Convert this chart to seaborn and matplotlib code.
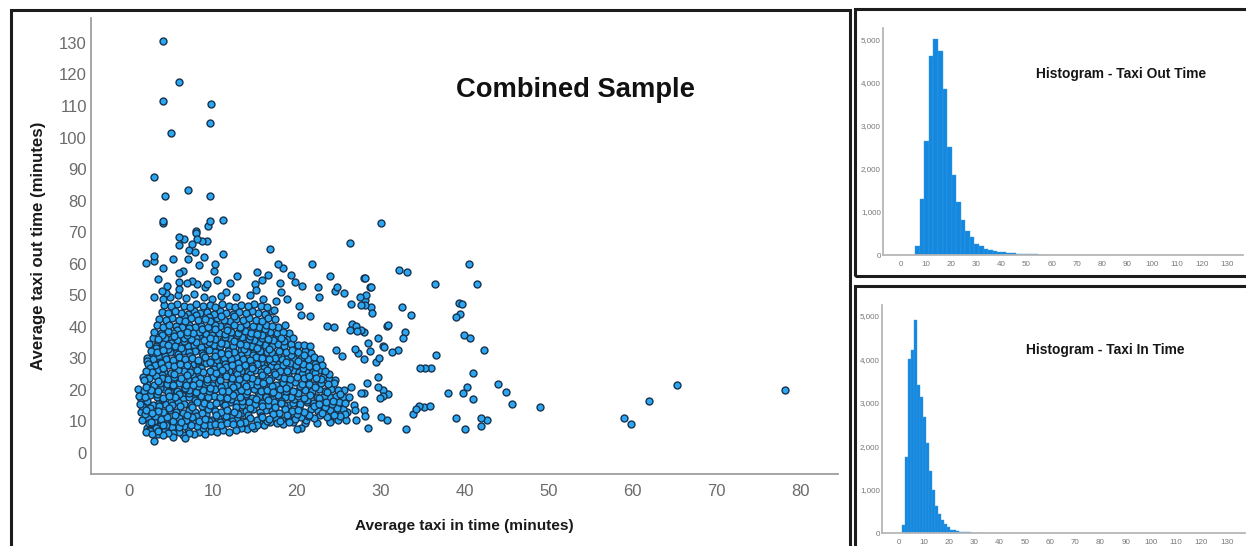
"""Combined sample: taxi in / taxi out scatter with two histograms"""

import matplotlib
matplotlib.use('Agg')
import matplotlib.pyplot as plt
import pandas as pd
import seaborn as sns

# scatter, outliers and loose points around the cloud
loose_in = [4.0, 6.0, 4.0, 9.8, 9.6, 5.0, 3.0, 7.0, 4.3, 9.6, 4.0, 4.0, 9.7, 9.4, 11.2, 8.0,
            78.2, 65.3, 62.0, 59.8, 59.0, 49.0, 45.6, 44.9, 44.0, 42.3, 42.7, 42.0, 42.0, 41.0, 41.0, 41.5,
            40.5, 40.6, 39.9, 40.3, 40.0, 39.8, 39.0, 38.0, 39.7, 39.3, 39.5, 39.0, 36.5, 36.6, 36.0, 35.3,
            34.7, 35.9, 35.2, 34.6, 34.2, 33.8, 33.0, 33.6, 32.9, 32.7, 32.5, 32.2, 33.1, 30.0, 26.3, 16.8,
            32.0, 31.3, 30.3, 30.9, 29.7, 28.5, 28.8, 28.7, 28.1, 27.6, 26.6, 28.1, 27.5, 27.2, 6.0, 6.5,
            6.0, 8.0, 8.1, 8.7, 9.3, 7.5, 7.1, 7.9, 11.2, 2.0, 3.0, 3.0, 5.2, 4.0, 8.9, 7.0,
            10.3, 10.1, 8.3, 17.7, 18.4, 21.8, 19.3, 19.8, 20.6, 23.9, 28.0, 28.8, 28.2, 22.5, 22.6, 24.5,
            24.8, 25.6, 26.4, 27.6, 28.1, 29.0, 15.3, 16.6, 12.9, 10.5, 3.5, 6.4, 5.9, 18.0, 18.1, 15.8,
            15.0, 15.1, 12.0, 11.6, 3.0, 4.5, 3.9, 4.0, 6.0, 6.9, 7.5, 8.1, 9.1, 9.3, 18.8, 17.5,
            20.3, 20.5, 21.6, 23.6, 24.4, 26.3, 27.1, 28.0, 30.8, 30.4, 28.7, 26.9, 27.3, 28.0, 24.7, 25.4,
            29.4, 29.8, 29.7, 28.5, 30.0, 30.8, 29.7, 30.3, 29.9, 30.3, 30.9, 28.4, 27.7, 28.0, 28.0, 26.9,
            27.0, 28.1, 25.9, 24.9, 24.0, 25.7, 20.0, 20.5, 21.0, 3.0, 6.7]
loose_out = [130.6, 117.6, 111.6, 110.6, 104.5, 101.5, 87.4, 83.4, 81.4, 81.4, 73.0, 73.4, 73.6, 72.0, 74.0, 70.4,
             20.0, 21.5, 16.4, 9.1, 11.0, 14.5, 15.5, 19.2, 22.0, 32.5, 10.4, 11.0, 8.5, 17.0, 25.5, 53.6,
             60.0, 36.6, 37.5, 21.0, 7.6, 19.0, 11.0, 19.0, 47.3, 47.6, 44.0, 43.0, 53.6, 31.0, 27.0, 27.0,
             27.0, 14.8, 14.5, 14.8, 13.9, 12.3, 7.6, 43.8, 38.5, 36.6, 46.4, 58.0, 57.4, 73.0, 66.5, 64.7,
             32.5, 31.9, 34.0, 40.7, 36.6, 35.0, 46.4, 52.7, 55.5, 39.0, 41.0, 48.6, 49.5, 38.8, 68.5, 67.7,
             66.0, 69.8, 67.7, 67.2, 67.2, 66.3, 64.3, 63.8, 63.2, 60.3, 62.5, 61.0, 61.4, 58.8, 62.0, 61.4,
             59.8, 57.7, 59.5, 59.8, 58.5, 60.0, 56.4, 54.3, 52.8, 56.2, 55.4, 52.5, 50.2, 52.7, 49.5, 51.4,
             52.5, 50.8, 47.2, 46.8, 47.0, 44.4, 57.4, 56.5, 56.2, 54.8, 55.3, 57.7, 57.2, 54.0, 51.0, 54.9,
             53.5, 51.7, 53.8, 50.9, 49.3, 53.0, 51.2, 48.8, 54.3, 54.0, 54.4, 53.7, 52.5, 53.5, 48.8, 48.3,
             46.5, 43.8, 43.3, 40.4, 40.0, 39.0, 40.4, 38.3, 40.4, 33.5, 32.3, 33.0, 31.6, 29.9, 32.5, 30.9,
             29.0, 30.0, 24.0, 8.0, 11.5, 10.4, 20.9, 19.9, 17.4, 18.0, 18.8, 22.3, 19.0, 19.0, 13.6, 13.6,
             10.6, 11.7, 10.4, 10.4, 9.9, 12.5, 7.6, 8.0, 9.6, 3.8, 4.7]

# dense cloud, lower part (out time under 15)
low_in = [2.2, 2.9, 3.4, 4.1, 4.7, 5.3, 5.9, 6.4, 7.1, 7.8,
          8.4, 9.1, 9.8, 10.5, 11.2, 11.9, 12.7, 13.4, 14.1, 14.9,
          2.4, 3.7, 4.4, 5.1, 5.7, 6.6, 7.4, 8.1, 8.9, 9.6,
          10.3, 11.0, 11.7, 12.4, 13.2, 14.6, 15.3, 16.1, 16.8, 17.6,
          18.3, 19.1, 2.0, 1.6, 2.3, 3.0, 3.8, 4.5, 5.2, 6.0,
          6.8, 7.5, 8.3, 9.0, 9.8, 10.6, 11.3, 12.1, 12.9, 13.6,
          14.4, 15.2, 15.9, 16.7, 17.5, 18.2, 19.0, 19.8, 20.5, 21.3,
          22.1, 22.8, 23.6, 24.4, 25.1, 1.4, 2.0, 2.7, 3.4, 4.1,
          4.9, 5.6, 6.4, 7.2, 7.9, 8.7, 9.4, 10.2, 11.0, 11.7,
          12.5, 13.3, 14.0, 14.8, 15.6, 16.3, 17.1, 17.9, 18.6, 19.4,
          20.2, 20.9, 21.7, 22.5, 23.2, 24.0, 24.8, 25.5, 2.5, 3.2]
low_out = [7.9, 6.2, 6.9, 5.7, 6.3, 5.2, 6.6, 5.8, 6.4, 5.9,
           6.7, 6.1, 7.0, 6.5, 7.2, 6.8, 7.4, 7.9, 7.6, 8.0,
           9.4, 8.7, 8.9, 8.2, 9.1, 8.4, 8.9, 8.6, 9.0, 8.8,
           9.3, 8.9, 9.6, 9.2, 9.5, 8.6, 9.0, 8.8, 9.7, 9.4,
           9.1, 9.8, 6.8, 10.4, 11.2, 10.1, 10.9, 11.4, 10.3, 11.0,
           10.6, 11.3, 10.2, 10.9, 10.5, 11.1, 10.3, 11.4, 10.7, 10.2,
           11.0, 10.6, 11.5, 10.8, 11.2, 10.4, 11.6, 10.9, 11.3, 11.7,
           11.0, 12.0, 11.4, 12.1, 11.6, 13.0, 13.6, 12.8, 13.4, 12.9,
           13.7, 13.1, 12.7, 13.5, 13.0, 12.6, 13.8, 13.2, 12.9, 13.6,
           13.1, 12.8, 13.4, 13.9, 13.0, 13.5, 13.2, 12.8, 14.0, 13.3,
           13.7, 13.1, 13.9, 13.4, 14.1, 13.6, 14.2, 13.8, 7.1, 8.0]

# dense cloud, out time 15 to 25
mid_in = [1.3, 2.1, 2.8, 3.6, 4.3, 5.1, 5.8, 6.6, 7.4, 8.1,
          8.9, 9.7, 10.4, 11.2, 12.0, 12.7, 13.5, 14.3, 15.0, 15.8,
          16.6, 17.3, 18.1, 18.9, 19.6, 20.4, 21.2, 21.9, 22.7, 23.5,
          24.2, 25.0, 25.8, 1.2, 1.9, 2.5, 3.3, 4.0, 4.8, 5.5,
          6.3, 7.1, 7.8, 8.6, 9.4, 10.1, 10.9, 11.7, 12.4, 13.2,
          14.0, 14.7, 15.5, 16.3, 17.0, 17.8, 18.6, 19.3, 20.1, 20.9,
          21.6, 22.4, 23.2, 23.9, 24.7, 25.5, 26.2, 1.1, 1.8, 2.6,
          3.4, 4.2, 4.9, 5.7, 6.5, 7.2, 8.0, 8.8, 9.5, 10.3,
          11.1, 11.8, 12.6, 13.4, 14.1, 14.9, 15.7, 16.4, 17.2, 18.0,
          18.7, 19.5, 20.3, 21.0, 21.8, 22.6, 23.3, 24.1, 24.9, 25.6,
          2.2, 3.0, 3.7, 4.5, 5.3, 6.0, 6.8, 7.6, 8.3, 9.1,
          9.9, 10.6, 11.4, 12.2, 12.9, 13.7, 14.5, 15.2, 16.0, 16.8,
          17.5, 18.3, 19.1, 19.8, 20.6, 21.4, 22.1, 22.9, 23.7, 24.4,
          1.7, 2.4, 3.2, 3.9, 4.7, 5.4, 6.2, 7.0, 7.7, 8.5,
          9.3, 10.0, 10.8, 11.6, 12.3, 13.1, 13.9, 14.6, 15.4, 16.2,
          16.9, 17.7, 18.5, 19.2, 20.0, 20.8, 21.5, 22.3, 23.1, 23.8]
mid_out = [15.4, 15.9, 15.2, 16.0, 15.5, 15.1, 16.1, 15.6, 15.2, 16.2,
           15.7, 15.3, 16.0, 15.5, 16.3, 15.8, 15.2, 16.1, 15.6, 15.9,
           15.3, 16.2, 15.7, 15.1, 16.0, 15.5, 16.3, 15.8, 15.4, 16.1,
           15.6, 16.2, 15.8, 18.0, 17.6, 18.3, 17.9, 17.4, 18.1, 17.7,
           18.4, 17.8, 17.3, 18.0, 17.6, 18.2, 17.9, 17.4, 18.3, 17.7,
           18.1, 17.5, 18.2, 17.8, 17.4, 18.4, 17.9, 17.6, 18.1, 17.5,
           18.3, 17.8, 18.0, 17.6, 18.2, 17.9, 17.7, 20.2, 19.7, 20.1,
           19.6, 20.3, 19.8, 19.5, 20.2, 19.9, 19.4, 20.1, 19.7, 20.4,
           19.8, 19.5, 20.3, 19.9, 19.6, 20.2, 19.7, 20.0, 19.4, 20.3,
           19.8, 19.6, 20.1, 19.9, 19.5, 20.2, 19.7, 20.4, 19.9, 20.1,
           22.0, 21.6, 22.3, 21.8, 21.5, 22.2, 21.7, 21.4, 22.1, 21.9,
           21.5, 22.3, 21.7, 22.0, 21.6, 22.2, 21.8, 21.5, 22.3, 21.9,
           21.6, 22.1, 21.7, 22.4, 21.8, 22.0, 21.5, 22.2, 21.9, 22.3,
           24.1, 23.7, 24.3, 23.8, 23.5, 24.2, 23.9, 23.6, 24.4, 23.8,
           23.5, 24.1, 23.7, 24.3, 23.9, 23.6, 24.2, 23.8, 23.5, 24.0,
           23.7, 24.3, 23.9, 23.6, 24.1, 23.8, 24.4, 23.7, 24.0, 23.6]

# dense cloud, out time 25 to 36
high_in = [2.0, 2.7, 3.5, 4.2, 5.0, 5.8, 6.5, 7.3, 8.1, 8.8,
           9.6, 10.4, 11.1, 11.9, 12.7, 13.4, 14.2, 15.0, 15.7, 16.5,
           17.3, 18.0, 18.8, 19.6, 20.3, 21.1, 21.9, 22.6, 23.4, 2.3,
           3.1, 3.8, 4.6, 5.4, 6.1, 6.9, 7.7, 8.4, 9.2, 10.0,
           10.7, 11.5, 12.3, 13.0, 13.8, 14.6, 15.3, 16.1, 16.9, 17.6,
           18.4, 19.2, 19.9, 20.7, 21.5, 22.2, 23.0, 2.1, 2.9, 3.6,
           4.4, 5.2, 5.9, 6.7, 7.5, 8.2, 9.0, 9.8, 10.5, 11.3,
           12.1, 12.8, 13.6, 14.4, 15.1, 15.9, 16.7, 17.4, 18.2, 19.0,
           19.7, 20.5, 21.3, 22.0, 22.8, 2.6, 3.3, 4.1, 4.9, 5.6,
           6.4, 7.2, 7.9, 8.7, 9.5, 10.2, 11.0, 11.8, 12.5, 13.3,
           14.1, 14.8, 15.6, 16.4, 17.1, 17.9, 18.7, 19.4, 20.2, 21.0,
           21.7, 2.4, 3.2, 4.0, 4.7, 5.5, 6.3, 7.0, 7.8, 8.6,
           9.3, 10.1, 10.9, 11.6, 12.4, 13.2, 13.9, 14.7, 15.5, 16.2,
           17.0, 17.8, 18.5, 19.3, 20.1, 20.8, 21.6, 2.8, 3.4, 4.3,
           5.0, 5.7, 6.6, 7.4, 8.0, 8.9, 9.7, 10.3, 11.2, 12.0,
           12.6, 13.5, 14.3, 14.9, 15.8, 16.6, 17.2, 18.1, 18.9, 19.5]
high_out = [26.1, 25.7, 26.3, 25.8, 25.5, 26.2, 25.9, 25.6, 26.4, 25.8,
            26.0, 25.5, 26.3, 25.9, 25.6, 26.1, 25.7, 26.4, 25.8, 26.2,
            25.6, 26.0, 25.9, 26.3, 25.7, 26.1, 25.8, 26.4, 26.0, 28.2,
            27.8, 28.4, 27.9, 27.6, 28.3, 27.8, 28.1, 27.5, 28.4, 27.9,
            27.6, 28.2, 27.8, 28.5, 27.9, 27.6, 28.3, 28.0, 27.7, 28.2,
            27.8, 28.4, 27.9, 28.1, 27.7, 28.3, 27.9, 30.2, 29.8, 30.4,
            29.9, 29.6, 30.3, 29.8, 30.1, 29.5, 30.4, 29.9, 29.6, 30.2,
            29.8, 30.5, 29.9, 29.6, 30.3, 30.0, 29.7, 30.2, 29.8, 30.4,
            29.9, 30.1, 29.7, 30.3, 29.9, 32.3, 31.9, 32.5, 32.0, 31.7,
            32.4, 31.9, 32.2, 31.6, 32.5, 32.0, 31.7, 32.3, 31.9, 32.6,
            32.0, 31.7, 32.4, 32.1, 31.8, 32.3, 31.9, 32.5, 32.0, 32.2,
            31.8, 34.4, 34.0, 34.6, 34.1, 33.8, 34.5, 34.0, 34.3, 33.7,
            34.6, 34.1, 33.8, 34.4, 34.0, 34.7, 34.1, 33.8, 34.5, 34.2,
            33.9, 34.4, 34.0, 34.6, 34.1, 34.3, 33.9, 36.4, 36.0, 36.6,
            36.1, 35.8, 36.5, 36.0, 36.3, 35.7, 36.6, 36.1, 35.8, 36.4,
            36.0, 36.7, 36.1, 35.8, 36.5, 36.2, 35.9, 36.4, 36.0, 36.6]

# dense cloud, top edge (out time 36 to 50)
top_in = [3.0, 3.8, 4.6, 5.3, 6.1, 6.9, 7.6, 8.4, 9.2, 9.9,
          10.7, 11.5, 12.2, 13.0, 13.8, 14.5, 15.3, 16.1, 16.8, 17.6,
          18.4, 19.1, 3.3, 4.0, 4.8, 5.6, 6.3, 7.1, 7.9, 8.6,
          9.4, 10.2, 10.9, 11.7, 12.5, 13.2, 14.0, 14.8, 15.5, 16.3,
          17.1, 17.8, 18.6, 3.6, 4.4, 5.1, 5.9, 6.7, 7.4, 8.2,
          9.0, 9.7, 10.5, 11.3, 12.0, 12.8, 13.6, 14.3, 15.1, 15.9,
          16.6, 17.4, 3.9, 4.7, 5.5, 6.2, 7.0, 7.8, 8.5, 9.3,
          10.1, 10.8, 11.6, 12.4, 13.1, 13.9, 14.7, 15.4, 16.2, 17.0,
          4.2, 5.0, 5.7, 6.5, 7.3, 8.0, 8.8, 9.6, 10.3, 11.1,
          11.9, 12.6, 13.4, 14.2, 14.9, 15.7, 16.5, 4.9, 5.8, 6.8,
          7.7, 8.9, 9.9, 11.0, 12.7, 14.4, 16.0, 17.3, 4.4, 6.0]
top_out = [38.4, 38.0, 38.6, 38.1, 37.8, 38.5, 38.0, 38.3, 37.7, 38.6,
           38.1, 37.8, 38.4, 38.0, 38.7, 38.1, 37.8, 38.5, 38.2, 37.9,
           38.4, 38.0, 40.5, 40.1, 40.7, 40.2, 39.9, 40.6, 40.1, 40.4,
           39.8, 40.7, 40.2, 39.9, 40.5, 40.1, 40.8, 40.2, 39.9, 40.6,
           40.3, 40.0, 40.5, 42.6, 42.2, 42.8, 42.3, 42.0, 42.7, 42.2,
           42.5, 41.9, 42.8, 42.3, 42.0, 42.6, 42.2, 42.9, 42.3, 42.0,
           42.7, 42.4, 44.8, 44.4, 45.0, 44.5, 44.2, 44.9, 44.4, 44.7,
           44.1, 45.0, 44.5, 44.2, 44.8, 44.4, 45.1, 44.5, 44.2, 44.9,
           47.0, 46.6, 47.2, 46.7, 46.4, 47.1, 46.6, 46.9, 46.3, 47.2,
           46.7, 46.4, 47.0, 46.6, 47.3, 46.7, 46.4, 49.4, 50.1, 49.2,
           50.3, 49.6, 48.9, 49.8, 49.3, 50.0, 48.7, 45.4, 50.6, 51.9]

# points between the rows above, lower half of the cloud
fill_low_in = [2.6, 3.5, 4.4, 6.2, 7.7, 8.6, 9.5, 10.8, 12.3, 13.8,
               15.5, 16.5, 18.0, 19.6, 21.1, 22.4, 23.9, 1.9, 3.1, 4.2,
               5.5, 6.9, 8.0, 9.2, 10.4, 11.6, 13.0, 14.2, 15.7, 17.2,
               18.8, 20.0, 21.5, 23.0, 24.6, 26.0, 1.5, 2.5, 3.6, 4.8,
               6.1, 7.5, 8.7, 10.0, 11.5, 12.8, 14.4, 15.9, 17.4, 18.5,
               20.3, 22.0, 23.4, 25.3, 26.8, 1.4, 2.2, 3.9, 5.0, 6.4,
               7.9, 9.3, 10.7, 12.2, 13.5, 15.1, 16.6, 18.1, 19.7, 21.2,
               22.7, 24.3, 25.9, 1.6, 3.3, 4.6, 5.9, 7.2, 8.5, 9.9,
               11.3, 12.7, 14.0, 15.4, 17.0, 18.4, 20.1, 21.7, 23.6, 25.1,
               2.0, 3.7, 5.3, 6.7, 8.2, 9.6, 11.0, 12.4, 13.9, 15.6,
               17.1, 18.7, 20.4, 22.2, 24.0, 26.4, 2.4, 3.0, 2.7, 3.5,
               4.0, 4.9, 5.6, 2.9, 3.4, 4.3, 5.2, 6.0, 7.0, 8.8]
fill_low_out = [9.9, 10.0, 9.6, 9.7, 10.1, 9.5, 10.2, 9.9, 10.3, 9.8,
                10.3, 10.0, 10.2, 9.9, 10.4, 9.6, 10.1, 12.3, 11.8, 12.4,
                11.9, 12.2, 11.7, 12.5, 12.1, 11.8, 12.4, 12.0, 11.7, 12.3,
                12.0, 12.5, 11.9, 12.6, 12.9, 13.0, 14.9, 14.2, 14.8, 14.4,
                15.0, 14.5, 14.9, 14.3, 15.1, 14.6, 14.2, 14.9, 14.5, 15.2,
                14.4, 15.0, 14.7, 14.9, 15.3, 17.1, 16.6, 17.2, 16.5, 17.0,
                16.7, 17.3, 16.4, 17.1, 16.6, 17.2, 16.8, 16.5, 17.0, 16.7,
                17.3, 16.6, 17.1, 19.1, 18.6, 19.2, 18.7, 19.0, 18.5, 19.3,
                18.8, 19.0, 18.6, 19.2, 18.9, 18.5, 19.1, 18.7, 19.3, 18.8,
                21.0, 20.6, 21.2, 20.7, 21.1, 20.5, 21.0, 20.8, 21.3, 20.6,
                21.1, 20.7, 21.2, 20.9, 21.3, 20.8, 7.4, 9.3, 5.9, 7.6,
                9.0, 6.9, 7.8, 10.6, 6.0, 7.3, 6.4, 8.3, 7.6, 7.9]

# points between the rows above, upper half of the cloud
fill_up_in = [1.8, 3.4, 5.0, 6.4, 7.9, 9.3, 10.8, 12.2, 13.7, 15.2,
              16.7, 18.2, 19.7, 21.3, 22.9, 24.5, 2.3, 3.9, 5.4, 6.9,
              8.4, 9.9, 11.4, 12.9, 14.4, 15.9, 17.4, 19.0, 20.6, 22.2,
              23.8, 2.5, 4.1, 5.6, 7.1, 8.6, 10.1, 11.6, 13.1, 14.6,
              16.1, 17.6, 19.1, 20.7, 22.3, 2.2, 3.7, 5.2, 6.7, 8.2,
              9.7, 11.2, 12.7, 14.2, 15.7, 17.2, 18.7, 20.2, 21.8, 2.8,
              4.3, 5.8, 7.3, 8.8, 10.3, 11.8, 13.3, 14.8, 16.3, 17.8,
              19.3, 20.9, 3.2, 4.7, 6.2, 7.7, 9.2, 10.7, 12.2, 13.7,
              15.2, 16.7, 18.2, 19.8, 3.5, 5.0, 6.5, 8.0, 9.5, 11.0,
              12.5, 14.0, 15.5, 17.0, 18.5, 3.9, 5.4, 6.9, 8.4, 9.9,
              11.4, 12.9, 14.4, 15.9, 17.5, 4.2, 5.7, 7.2, 8.7, 10.2,
              11.7, 13.2, 14.7, 16.2, 5.0, 6.5, 8.0, 9.5, 11.0, 12.5]
fill_up_out = [23.0, 22.7, 23.2, 22.8, 23.1, 22.6, 23.2, 22.9, 23.3, 22.7,
               23.1, 22.8, 23.2, 22.9, 23.3, 23.0, 25.1, 24.7, 25.2, 24.8,
               25.0, 24.6, 25.3, 24.9, 25.1, 24.7, 25.2, 24.8, 25.0, 25.3,
               24.9, 27.1, 26.8, 27.3, 26.9, 27.0, 26.7, 27.2, 26.9, 27.1,
               26.8, 27.3, 26.9, 27.1, 27.2, 29.2, 28.8, 29.3, 28.9, 29.1,
               28.7, 29.4, 29.0, 29.2, 28.8, 29.3, 28.9, 29.1, 29.0, 31.2,
               30.9, 31.4, 30.9, 31.1, 30.8, 31.3, 31.0, 31.2, 30.9, 31.3,
               31.0, 31.2, 33.2, 32.9, 33.4, 33.0, 33.2, 32.8, 33.3, 33.0,
               33.2, 32.9, 33.4, 33.1, 35.3, 35.0, 35.5, 35.1, 35.3, 34.9,
               35.4, 35.1, 35.3, 35.0, 35.4, 37.4, 37.0, 37.5, 37.1, 37.3,
               36.9, 37.4, 37.1, 37.3, 37.0, 39.4, 39.1, 39.6, 39.2, 39.4,
               39.0, 39.5, 39.2, 39.4, 43.6, 43.3, 43.7, 43.2, 43.5, 43.4]

# histograms, bin centres and counts
out_bins = [6.51, 8.33, 10.15, 11.97, 13.79, 15.61, 17.43, 19.25, 21.07, 22.89,
            24.71, 26.53, 28.35, 30.17, 31.99, 33.81, 35.63, 37.45, 39.27, 41.09,
            42.91, 44.73, 46.55, 48.37, 50.19, 52.01, 53.83, 55.65, 57.47, 59.29]
out_counts = [200, 1300, 2650, 4620, 5000, 4720, 3850, 2500, 1850, 1220,
              800, 560, 410, 260, 210, 150, 120, 100, 70, 60,
              50, 40, 30, 25, 20, 18, 12, 10, 8, 6]
in_bins = [1.8, 2.99, 4.18, 5.37, 6.56, 7.75, 8.94, 10.13, 11.32, 12.51,
           13.7, 14.89, 16.08, 17.27, 18.46, 19.65, 20.84, 22.03, 23.22, 24.41,
           25.6, 26.79, 27.98, 29.17, 30.36, 31.55]
in_counts = [180, 1750, 4000, 4220, 4900, 3400, 3130, 2680, 2080, 1430,
             980, 620, 440, 290, 210, 130, 70, 60, 40, 30,
             25, 20, 30, 10, 8, 6]

hist_ticks = [0, 10, 20, 30, 40, 50, 60, 70, 80, 90, 100, 110, 120, 130]
scatter_x_ticks = [0, 10, 20, 30, 40, 50, 60, 70, 80]
scatter_y_ticks = [0, 10, 20, 30, 40, 50, 60, 70, 80, 90, 100, 110, 120, 130]
count_ticks = [0, 1000, 2000, 3000, 4000, 5000]
count_labels = ['0', '1,000', '2,000', '3,000', '4,000', '5,000']

W, H = 1246, 546
AXIS_GREY = '#b4b4b4'
TICK_GREY = '#6b6b6b'

sns.set_theme(style='white')
plt.rcParams['font.family'] = ['Liberation Sans', 'DejaVu Sans']


def px_axes(fig, left, top, right, bottom):
    """Axes placed by pixel edges, y counted from the top"""
    return fig.add_axes([left / W, 1 - bottom / H, (right - left) / W, (bottom - top) / H])


def frame(fig, left, top, right, bottom):
    fig.add_artist(plt.Rectangle((left / W, 1 - bottom / H), (right - left) / W, (bottom - top) / H,
                                 transform=fig.transFigure, fill=False, edgecolor='#1c1c1c',
                                 linewidth=2.2, clip_on=False))


def style_axes(ax, grey=AXIS_GREY):
    sns.despine(ax=ax)
    ax.spines['left'].set_color(grey)
    ax.spines['bottom'].set_color(grey)


def plot_hist(ax, bins, counts, binwidth, binrange, xlim, ylim, title, title_xy):
    sns.histplot(x=bins, weights=counts, binwidth=binwidth, binrange=binrange, ax=ax,
                 color='#1488de', edgecolor='#3a9be4', linewidth=0.3, alpha=1)
    ax.set_xlim(*xlim)
    ax.set_ylim(*ylim)
    ax.set_xticks(hist_ticks)
    ax.set_yticks(count_ticks, count_labels)
    ax.set_xlabel('')
    ax.set_ylabel('')
    ax.tick_params(axis='both', length=0, labelsize=5.8, labelcolor='#777777')
    ax.tick_params(axis='y', pad=1.5)
    ax.tick_params(axis='x', pad=4)
    style_axes(ax)
    ax.text(*title_xy, title, transform=ax.figure.transFigure, fontsize=9.9, fontweight='bold',
            color='#151515', ha='left', va='center')


fig = plt.figure(figsize=(W / 100, H / 100), dpi=100, facecolor='white')

frame(fig, 11, 10, 850, 552)
frame(fig, 855, 9, 1252, 276)
frame(fig, 855, 286, 1252, 552)

# main scatter, draw order mixed so the rows do not show as scales
points = pd.DataFrame({
    'taxi_in': loose_in + low_in + mid_in + high_in + top_in + fill_low_in + fill_up_in,
    'taxi_out': loose_out + low_out + mid_out + high_out + top_out + fill_low_out + fill_up_out,
})
points = points.sort_values('taxi_in', key=lambda s: (s * 10) % 7)
ax = px_axes(fig, 91, 18, 838, 474)
sns.scatterplot(data=points, x='taxi_in', y='taxi_out', ax=ax, s=25, color='#2ba6f2',
                edgecolor='#17344f', linewidth=1.0)
ax.set_xlim(-4.53, 84.5)
ax.set_ylim(-6.66, 137.9)
ax.set_xticks(scatter_x_ticks)
ax.set_yticks(scatter_y_ticks)
ax.tick_params(axis='both', length=0, labelsize=12, labelcolor=TICK_GREY)
ax.tick_params(axis='y', pad=3)
ax.tick_params(axis='x', pad=7.5)
style_axes(ax, '#9a9a9a')
ax.set_xlabel('')
ax.set_ylabel('')
fig.text(464 / W, 1 - 526 / H, 'Average taxi in time (minutes)', fontsize=11.1, fontweight='bold',
         color='#1a1a1a', ha='center', va='center')
fig.text(39 / W, 1 - 246 / H, 'Average taxi out time (minutes)', fontsize=12.1, fontweight='bold',
         color='#1a1a1a', ha='center', va='center', rotation=90)
fig.text(575 / W, 1 - 90 / H, 'Combined Sample', fontsize=19.7, fontweight='bold',
         color='#111111', ha='center', va='center')

# taxi out histogram
ax_out = px_axes(fig, 883, 28, 1243, 255)
plot_hist(ax_out, out_bins, out_counts, 1.82, (5.6, 60.2), (-7.2, 136.3), (0, 5260),
          'Histogram - Taxi Out Time', (1036 / W, 1 - 74 / H))

# taxi in histogram
ax_in = px_axes(fig, 882, 305, 1245, 533)
plot_hist(ax_in, in_bins, in_counts, 1.19, (1.2, 32.15), (-6.7, 137.3), (0, 5245),
          'Histogram - Taxi In Time', (1026 / W, 1 - 350 / H))

fig.savefig('out.png', dpi=100)
